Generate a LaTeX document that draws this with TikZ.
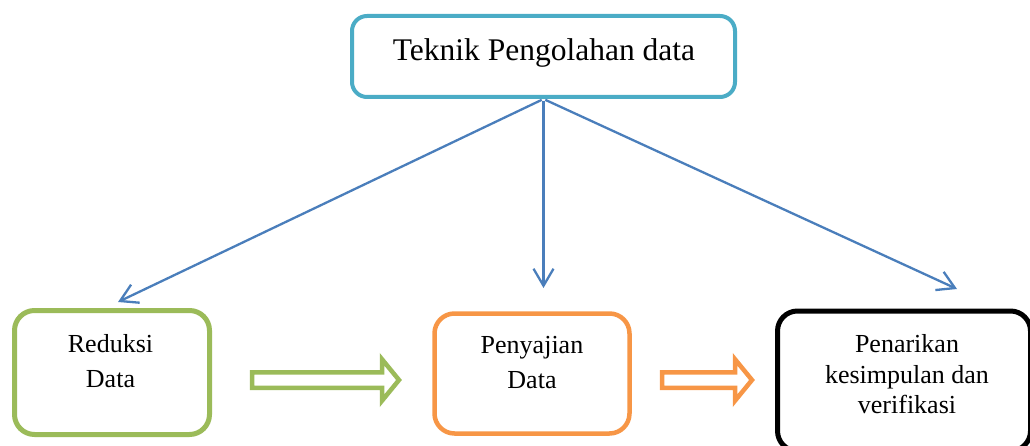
\documentclass[tikz,border=0pt]{standalone}
\usepackage{fontspec}
\setmainfont{Liberation Serif}
\usepackage{xcolor}
\usetikzlibrary{arrows.meta}

\definecolor{tealbox}{HTML}{4BACC6}
\definecolor{greenbox}{HTML}{9BBB59}
\definecolor{orangebox}{HTML}{F79646}
\definecolor{flowblue}{HTML}{4A7EBB}

\begin{document}
\begin{tikzpicture}[x=1pt, y=-1pt,
    box/.style={draw, fill=white, rounded corners=20pt, inner sep=0pt},
    boxtext/.style={inner sep=0pt, align=center, font=\fontsize{26}{35.5}\selectfont},
    flow/.style={draw=flowblue, line width=2.3pt, -{Straight Barb[length=17pt,width=20pt]}}]
  \useasboundingbox (0,0) rectangle (1030,446);
  % Top box
  \node[box, draw=tealbox, line width=4pt, rounded corners=15pt,
    minimum width=383pt, minimum height=81pt] (teknik) at (543.5,56.5) {};
  \node[boxtext, font=\fontsize{31.5}{38}\selectfont] (teknik-text) at (544,52.7) {Teknik Pengolahan data};
  % Bottom boxes
  \foreach \name/\col/\lw/\cx/\cy/\w/\h in {
    reduksi/greenbox/5/112/372.5/195/124,
    penyajian/orangebox/4.5/532/373.5/195/120,
    penarikan/black/5/904/381/253/140
  } {
    \node[box, draw=\col, line width=\lw pt, minimum width=\w pt, minimum height=\h pt]
      (\name) at (\cx,\cy) {};
  }
  \node[boxtext] (reduksi-text) at (110.5,361.1) {Reduksi\\Data};
  \node[boxtext] (penyajian-text) at (532,362.6) {Penyajian\\Data};
  \node[boxtext, font=\fontsize{26}{30.5}\selectfont] (penarikan-text) at (907,374.6)
    {Penarikan\\kesimpulan dan\\verifikasi};
  % Blue connectors
  \coordinate (tip-reduksi) at (118,302);
  \coordinate (tip-penyajian) at (543.5,288);
  \coordinate (tip-penarikan) at (957,289);
  \foreach \t in {reduksi,penyajian,penarikan} {
    \draw[flow, shorten <=2pt] (teknik.south) -- (tip-\t);
  }
  % Block arrows
  \foreach \col/\xa/\xb/\xc in {greenbox/252/382/399, orangebox/662/735/752} {
    \draw[draw=\col, line width=4.5pt]
      (\xa,372.25) -- (\xb,372.25) -- (\xb,359.25) -- (\xc,380)
      -- (\xb,400.75) -- (\xb,387.75) -- (\xa,387.75) -- cycle;
  }
\end{tikzpicture}
\end{document}
